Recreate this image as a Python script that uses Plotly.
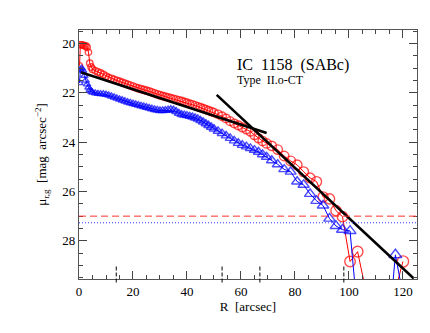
import plotly.graph_objects as go

# radii of the isophote fits (arcsec)
radius = [0.2, 0.5, 1.0, 1.5, 2.0, 2.5, 3.0, 3.5, 4.0, 4.5,
          5, 6, 7, 8, 9, 10, 11, 12, 13, 14, 15, 16, 17, 18, 19, 20,
          21, 22, 23, 24, 25, 26, 27, 28, 29, 30, 31, 32, 33, 34, 35,
          36, 37, 38, 39, 40, 41, 42, 43, 44, 45, 46, 47, 48, 49, 50,
          51.5, 53, 54.5, 56, 57.5, 59, 60.5, 62, 63.5, 65, 66.5, 68, 69.5,
          71.4, 73.6, 76.0, 78.4, 80.8, 83.2, 85.6, 88.0, 90.4, 92.8, 95.2,
          97.6, 100.4, 103.2, 106.0, 108.8, 111.6, 114.4, 117.2, 120.0, 122.8]

# r-band surface brightness
mu_r = [20.9, 20.05, 20.05, 20.06, 20.08, 20.1, 20.15, 20.35, 20.8, 20.95,
        21.04, 21.1, 21.15, 21.2, 21.26, 21.33, 21.38, 21.42, 21.46, 21.5,
        21.54, 21.58, 21.62, 21.66, 21.7, 21.74, 21.78, 21.82, 21.85, 21.88,
        21.91, 21.94, 21.98, 22.02, 22.06, 22.1, 22.13, 22.16, 22.19, 22.22,
        22.25, 22.28, 22.31, 22.34, 22.38, 22.41, 22.45, 22.48, 22.52, 22.56,
        22.6, 22.64, 22.68, 22.72, 22.76, 22.8,
        22.87, 22.95, 23.04, 23.15, 23.24, 23.32, 23.4, 23.48, 23.57, 23.71,
        23.84, 23.95, 24.05,
        24.15, 24.3, 24.56, 24.76, 24.92, 25.2, 25.45, 25.6, 26.22, 26.3,
        26.78, 27.02, 28.84, 28.44, 29.9, None, None, None, 30.0, 28.84, None]

# g-band surface brightness
mu_g = [21.6, 21.05, 21.0, 21.1, 21.3, 21.5, 21.65, 21.78, 21.88, 21.94,
        21.98, 22.01, 22.03, 22.04, 22.05, 22.07, 22.1, 22.14, 22.18, 22.22,
        22.26, 22.3, 22.34, 22.38, 22.41, 22.44, 22.47, 22.5, 22.53, 22.56,
        22.59, 22.62, 22.65, 22.68, 22.7, 22.72, 22.72, 22.71, 22.69, 22.68,
        22.7, 22.76, 22.83, 22.88, 22.9, 22.92, 22.95, 22.98, 23.02, 23.06,
        23.12, 23.18, 23.25, 23.32, 23.39, 23.46,
        23.55, 23.64, 23.74, 23.84, 23.94, 24.04, 24.12, 24.18, 24.25, 24.32,
        24.4, 24.5, 24.6,
        24.74, 24.9, 25.1, 25.2, 25.6, 25.73, 26.1, 26.38, 26.57, 27.1,
        27.4, 27.55, 27.6, 31.0, None, None, None, 32.0, 28.57, 30.2, None]

# exponential fits, inner and outer disc
inner_fit_r = [0.7, 69.5]
inner_fit_mu = [21.16, 23.63]
outer_fit_r = [51.0, 124.0]
outer_fit_mu = [22.08, 29.53]

# limiting surface brightness
mu_lim_r = 27.0
mu_lim_g = 27.27

# break / bar radii marked at the bottom
marks_r = [13.8, 53.0, 67.0, 98.1]

FONT = 'Liberation Serif'
NB = '\u00a0'

# markers grow outwards, like the original
sizes = [6.3 + 0.042 * r for r in radius]

fig = go.Figure()

fig.add_scatter(x=radius, y=mu_r, mode='lines+markers',
                line=dict(color='#ff0000', width=1),
                marker=dict(symbol='circle-open', size=sizes, color='#ff0000',
                            line=dict(width=1.4, color='#ff0000')),
                connectgaps=False, showlegend=False)

fig.add_scatter(x=radius, y=mu_g, mode='lines+markers',
                line=dict(color='#0000ff', width=1),
                marker=dict(symbol='triangle-up-open', size=sizes, color='#0000ff',
                            line=dict(width=1.4, color='#0000ff')),
                connectgaps=False, showlegend=False)

fig.add_scatter(x=inner_fit_r, y=inner_fit_mu, mode='lines',
                line=dict(color='black', width=2.6), showlegend=False)
fig.add_scatter(x=outer_fit_r, y=outer_fit_mu, mode='lines',
                line=dict(color='black', width=2.6), showlegend=False)

fig.add_hline(y=mu_lim_r, line=dict(color='#ff3030', width=1, dash='7px,4px'))
fig.add_hline(y=mu_lim_g, line=dict(color='#3030ff', width=1, dash='1px,2px'))

for r in marks_r:
    fig.add_shape(type='line', xref='x', yref='y domain', x0=r, x1=r,
                  y0=-0.014, y1=0.055,
                  line=dict(color='black', width=1, dash='4px,2px'))

fig.add_annotation(x=0.463, y=0.858, xref='paper', yref='paper',
                   text=f'IC{NB}{NB}1158{NB}{NB}(SABc)', showarrow=False,
                   xanchor='left', yanchor='middle',
                   font=dict(family=FONT, size=16, color='black'))
fig.add_annotation(x=0.463, y=0.8, xref='paper', yref='paper',
                   text=f'Type{NB}{NB}II.o-CT', showarrow=False,
                   xanchor='left', yanchor='middle',
                   font=dict(family=FONT, size=12, color='black'))

axis_common = dict(showgrid=False, zeroline=False, showline=True, automargin=False,
                   linecolor='#555555', linewidth=1.2, mirror='allticks',
                   ticks='inside', ticklen=8, tickwidth=1, tickcolor='#444444',
                   tickfont=dict(family=FONT, size=13, color='black'))

fig.update_xaxes(range=[0, 125.2], tick0=0, dtick=20,
                 minor=dict(dtick=5, ticks='inside', ticklen=4, tickcolor='#444444'),
                 title=dict(text='R  [arcsec]', font=dict(family=FONT, size=13, color='black'),
                            standoff=4),
                 **axis_common)
fig.update_yaxes(range=[29.55, 19.45], tick0=20, dtick=2,
                 minor=dict(dtick=0.5, ticks='inside', ticklen=4, tickcolor='#444444'),
                 title=dict(text=f'\u03bc<sub>r,g</sub>{NB}{NB}[mag{NB}{NB}arcsec<sup>\u22122</sup>]',
                            font=dict(family=FONT, size=13, color='black'), standoff=12),
                 **axis_common)

# page body adds an 8 px margin, so the figure is sized to sit where the original does
fig.update_layout(width=422, height=325,
                  margin=dict(l=71, r=13, t=22, b=54),
                  plot_bgcolor='white', paper_bgcolor='white',
                  showlegend=False)

fig.write_html("out.html")
